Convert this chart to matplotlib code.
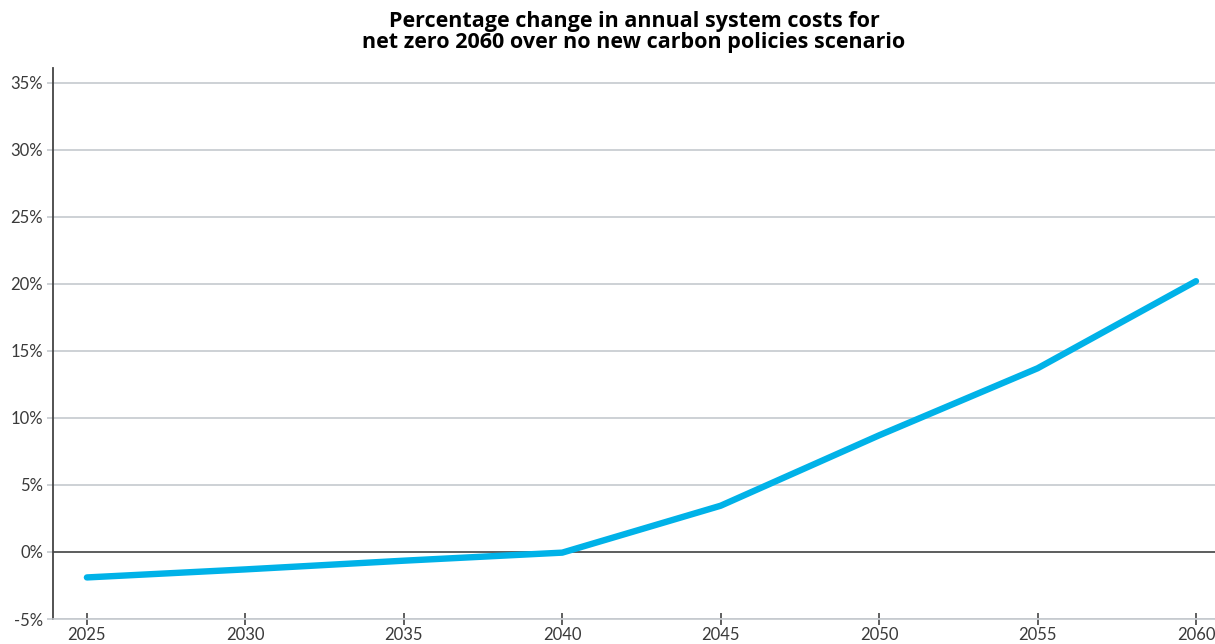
import matplotlib.pyplot as plt

years = [2025, 2030, 2035, 2040, 2045, 2050, 2055, 2060]
pct_change = [-1.9, -1.3, -0.65, -0.05, 3.45, 8.7, 13.7, 20.2]
y_ticks = [-5, 0, 5, 10, 15, 20, 25, 30, 35]

plt.rcParams['font.family'] = ['Lato', 'DejaVu Sans']

fig = plt.figure(figsize=(12.15, 6.44), dpi=100)
ax = fig.add_axes([53 / 1215, 25 / 644, 1 - 53 / 1215, 551 / 644])

ax.plot(years, pct_change, color='#00b2e8', lw=4.6, solid_capstyle='round', zorder=3)
ax.axhline(0, color='#555555', lw=1.3, zorder=2)

ax.set_xlim(2023.93, 2060.6)
ax.set_ylim(-5, 36.1)
ax.set_xticks(years)
ax.set_yticks(y_ticks)
ax.set_yticklabels([f'{v}%' for v in y_ticks])
ax.grid(axis='y', color='#c5c9ce', lw=1.2)
ax.set_axisbelow(True)

for s in ['top', 'right']:
    ax.spines[s].set_visible(False)
ax.spines['left'].set_color('#444444')
ax.spines['left'].set_linewidth(1.3)
ax.spines['bottom'].set_color('#c5c9ce')
ax.spines['bottom'].set_linewidth(1.2)

ax.tick_params(axis='x', direction='inout', length=8, width=1.2, color='#444444',
               labelsize=12, labelcolor='#3a3a3a', pad=2)
ax.tick_params(axis='y', direction='out', length=4, width=1.2, color='#c5c9ce',
               labelsize=12, labelcolor='#3a3a3a', pad=3)

fig.text((53 + 1215) / 2 / 1215, 1 - 11 / 644,
         'Percentage change in annual system costs for\nnet zero 2060 over no new carbon policies scenario',
         ha='center', va='top', fontsize=15.5, fontweight='bold', linespacing=1.0,
         family=['Open Sans', 'DejaVu Sans'])

plt.savefig('out.png')
